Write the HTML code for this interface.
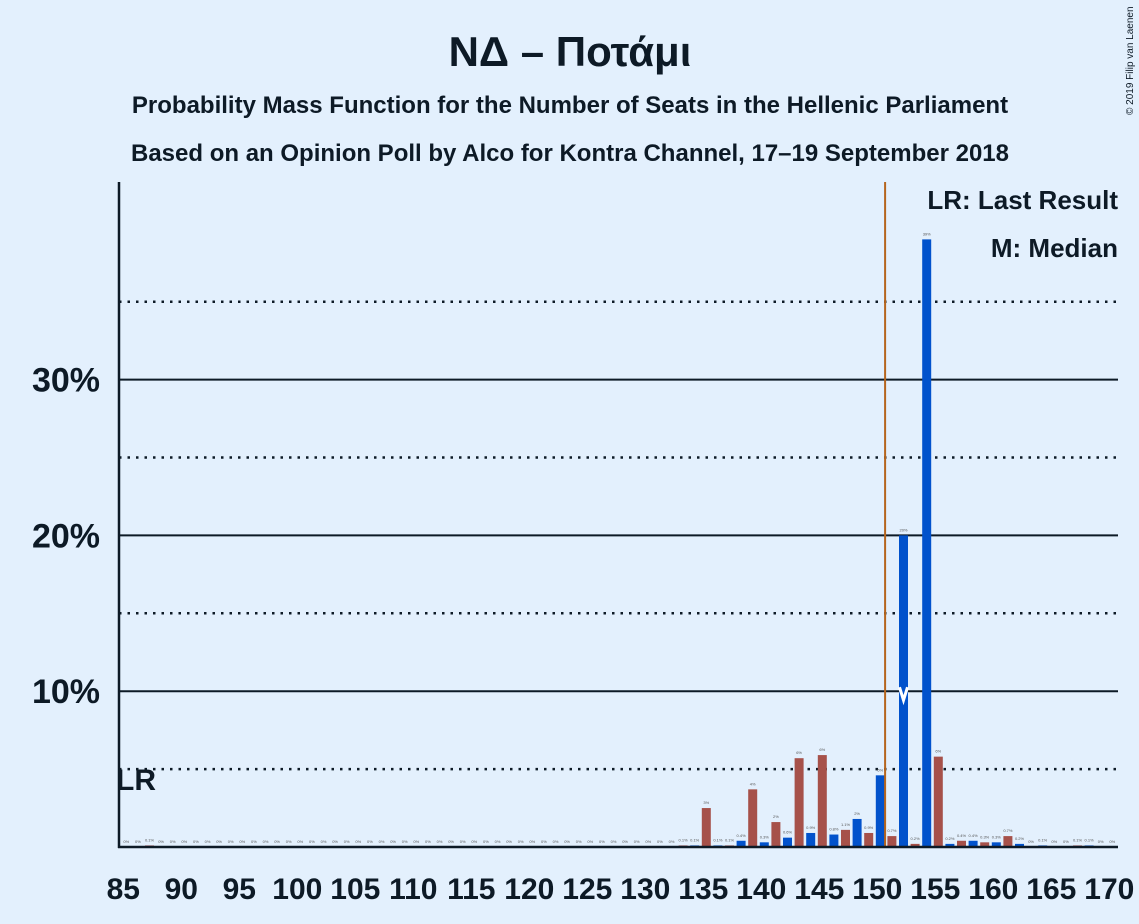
<!DOCTYPE html>
<html><head><meta charset="utf-8"><style>
body{margin:0;background:#e3f0fd;}
svg{display:block;font-family:"Liberation Sans",sans-serif;}
</style></head><body>
<svg width="1139" height="924" viewBox="0 0 1139 924">
<rect width="1139" height="924" fill="#e3f0fd"/>
<text x="570" y="66" text-anchor="middle" font-size="42" font-weight="bold" fill="#0d1a26">ΝΔ – Ποτάμι</text>
<text x="570" y="113" text-anchor="middle" font-size="24" font-weight="bold" fill="#0d1a26">Probability Mass Function for the Number of Seats in the Hellenic Parliament</text>
<text x="570" y="161" text-anchor="middle" font-size="24" font-weight="bold" fill="#0d1a26">Based on an Opinion Poll by Alco for Kontra Channel, 17–19 September 2018</text>
<text x="1133" y="115" font-size="10" fill="#0d1a26" transform="rotate(-90 1133 115)" text-anchor="start">© 2019 Filip van Laenen</text>
<g id="grid"></g>
<g id="bars"></g>
<g id="axes"></g>
<text x="1118" y="209" text-anchor="end" font-size="26" font-weight="bold" fill="#0d1a26">LR: Last Result</text>
<text x="1118" y="257" text-anchor="end" font-size="26" font-weight="bold" fill="#0d1a26">M: Median</text>
<text x="116" y="790" font-size="30" font-weight="bold" fill="#0d1a26">LR</text>
</svg>
<script>
const seatsFirst=85, seatsLast=170;
const probsLow=[0,0,0.1,0,0,0,0,0,0,0, 0,0,0,0,0,0,0,0,0,0, 0,0,0,0,0,0,0,0,0,0, 0,0,0,0,0,0,0,0,0,0, 0,0,0,0,0,0,0,0,0.1,0.1];
const probsHigh=[2.5,0.1,0.1,0.4,3.7,0.3,1.6,0.6,5.7,0.9,5.9,0.8,1.1,1.8,0.9,4.6,0.7,20.0,0.2,39.0,5.8,0.2,0.4,0.4,0.3,0.3,0.7,0.2,0,0.1,0,0,0.1,0.1,0,0];
const probs=probsLow.concat(probsHigh);
const yTicks=[10,20,30];
const yDotted=[5,15,25,35];
const xTicks=[85,90,95,100,105,110,115,120,125,130,135,140,145,150,155,160,165,170];
const lastResult=150.5, median=152;
const NS="http://www.w3.org/2000/svg";
const x=s=>903.5+(s-152)*11.6;
const y=v=>847-v*15.58;
function fmt(v){if(v<0.05)return '0%';if(v<1.5&&v<1)return v.toFixed(1)+'%';if(v<1.5)return v.toFixed(1)+'%';return Math.round(v)+'%';}
function mk(t,a,p){const e=document.createElementNS(NS,t);for(const k in a)e.setAttribute(k,a[k]);p.appendChild(e);return e;}
const grid=document.getElementById('grid'),bars=document.getElementById('bars'),axes=document.getElementById('axes');
yDotted.forEach(v=>{const l=mk('line',{x1:119,x2:1118,y1:y(v),y2:y(v),stroke:'#0d1a26','stroke-width':2.5,'stroke-dasharray':'2.5 6'},grid);

});
yTicks.forEach(v=>{const l=mk('line',{x1:119,x2:1118,y1:y(v),y2:y(v),stroke:'#0d1a26','stroke-width':2},grid);


const t=mk('text',{x:100,y:y(v)+12,'text-anchor':'end','font-size':34,'font-weight':'bold',fill:'#0d1a26'},axes);t.textContent=v+'%';

});
probs.forEach((v,i)=>{const s=seatsFirst+i;const c=(s%2===0)?'#0152cc':'#a6514a';
const r=mk('rect',{x:x(s)-4.5,y:y(v),width:9,height:Math.max(0,847-y(v)),fill:c},bars);


const t=mk('text',{x:x(s),y:y(v)-4,'text-anchor':'middle','font-size':4,fill:'#555'},bars);t.textContent=fmt(v);

});
const lr=mk('line',{x1:x(lastResult)-1,x2:x(lastResult)-1,y1:182,y2:847,stroke:'#b5651d','stroke-width':2},bars);


const m=mk('path',{d:`M${x(median)-4} ${y(10)-4} L${x(median)} ${y(10)+9} L${x(median)+4} ${y(10)-4}`,stroke:'#fff','stroke-width':3,fill:'none'},bars);


const ya=mk('line',{x1:119,x2:119,y1:182,y2:848,stroke:'#0d1a26','stroke-width':2.5},axes);


const xa=mk('line',{x1:118,x2:1118,y1:847,y2:847,stroke:'#0d1a26','stroke-width':2.5},axes);


xTicks.forEach(s=>{const t=mk('text',{x:x(s)-3,y:899,'text-anchor':'middle','font-size':30,'font-weight':'bold',fill:'#0d1a26'},axes);t.textContent=s;

});
</script>
</body></html>
